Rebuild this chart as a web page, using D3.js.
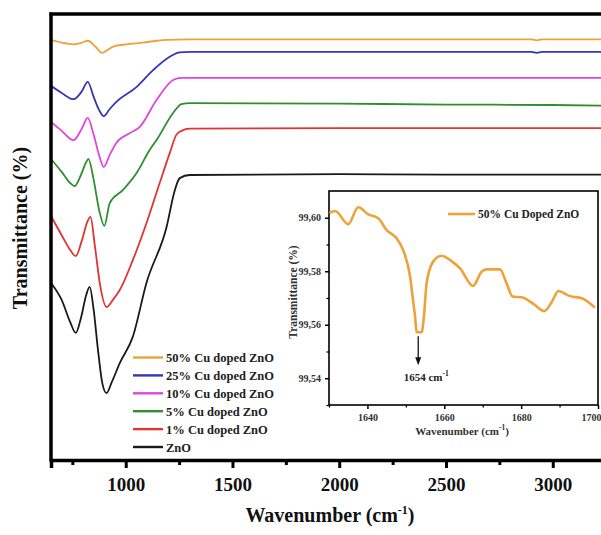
<!DOCTYPE html>
<html><head><meta charset="utf-8">
<script src="https://cdn.jsdelivr.net/npm/d3@7"></script>
<style>
body{margin:0;background:#fff}
svg{display:block}
text{font-family:"Liberation Serif","Times New Roman",serif;font-weight:bold}
</style>
</head><body>
<svg id="c" width="601" height="535"></svg>
<script>
// ---------------- DATA ----------------
const seriesNames = ["50% Cu doped ZnO","25% Cu doped ZnO","10% Cu doped ZnO","5% Cu doped ZnO","1% Cu doped ZnO","ZnO"];
const seriesColors = ["#eda23a","#3535b8","#df45df","#2e8f2e","#e03434","#1a1a1a"];

// [wavenumber, transmittance (arb. offset units)]
const cu50 = [[650,94.2],[700,93.6],[756,93.2],[795,93.6],[822,94.0],[860,92.6],[888,91.3],[941,92.7],[1003,93.2],[1081,93.6],[1144,94.0],[1191,94.2],[1300,94.3],[2000,94.3],[2900,94.3],[2925,94.1],[2950,94.3],[3300,94.3]];
const cu25 = [[650,83.9],[700,82.3],[756,80.9],[795,82.7],[822,84.8],[850,81.4],[875,78.5],[897,77.1],[925,78.7],[956,80.3],[1050,83.6],[1128,87.4],[1206,90.4],[1253,91.4],[1300,91.5],[2000,91.5],[2900,91.5],[2925,91.3],[2950,91.5],[3300,91.5]];
const cu10 = [[650,75.8],[700,73.8],[756,71.7],[795,74.4],[822,76.7],[850,72.9],[875,68.4],[897,65.7],[925,68.4],[956,71.1],[1020,73.3],[1066,74.7],[1144,80.7],[1222,85.2],[1261,85.7],[1300,85.7],[2000,85.7],[3300,85.7]];
const cu5 = [[650,67.5],[700,64.6],[740,62.1],[760,61.4],[790,63.9],[815,66.8],[825,67.5],[850,62.8],[875,56.1],[900,52.5],[925,57.6],[986,60.5],[1050,64.3],[1112,69.5],[1144,71.7],[1222,77.8],[1261,79.8],[1300,80.0],[2000,79.9],[2500,79.7],[3000,79.6],[3300,79.4]];
const cu1 = [[650,54.7],[700,50.4],[740,47.1],[766,45.7],[795,49.3],[820,53.4],[835,54.5],[855,48.2],[880,39.2],[910,34.3],[940,35.9],[972,38.1],[1033,44.8],[1097,53.1],[1159,62.1],[1206,68.8],[1237,72.9],[1261,73.8],[1300,74.3],[2000,74.4],[3300,74.4]];
const zno = [[650,39.7],[700,35.9],[740,30.9],[766,28.5],[790,31.8],[815,37.0],[831,38.8],[850,33.6],[870,24.7],[890,17.3],[910,15.0],[935,17.5],[972,21.7],[1033,27.6],[1097,39.7],[1191,52.2],[1230,60.5],[1253,63.2],[1300,63.9],[2000,64.1],[2500,64.0],[3300,64.0]];
const allSeries = [cu50, cu25, cu10, cu5, cu1, zno];

const mainTicks = [1000,1500,2000,2500,3000];
const mainMinorTicks = [750,1250,1750,2250,2750,3250];

// inset: 50% Cu doped ZnO, zoomed around 1654 cm-1
const insetData = [[1630.1,99.6017],[1631.6,99.6025],[1635.0,99.5976],[1637.6,99.6039],[1640.2,99.6013],[1642.8,99.5998],[1645.0,99.5954],[1647.6,99.5923],[1649.3,99.5879],[1651.1,99.5780],[1651.8,99.5700],[1652.4,99.5630],[1652.8,99.5572],[1654.1,99.5572],[1654.7,99.5630],[1655.4,99.5755],[1657.1,99.5836],[1659.3,99.5858],[1661.9,99.5838],[1664.1,99.5811],[1667.5,99.5745],[1669.7,99.5798],[1671.0,99.5807],[1674.5,99.5807],[1676.2,99.5755],[1677.8,99.5705],[1680.1,99.5703],[1683.2,99.5678],[1686.0,99.5651],[1688.0,99.5686],[1689.7,99.5726],[1692.7,99.5707],[1695.8,99.5699],[1699.2,99.5664]];
const insetXTicks = [1640,1660,1680,1700];
const insetXMinor = [1630,1650,1670,1690];
const insetYTicks = [99.54,99.56,99.58,99.60];
const insetYMinor = [99.53,99.55,99.57,99.59];
const insetLegend = "50% Cu Doped ZnO";
const peakLabel = 1654;

// ---------------- CHART ----------------
const svg = d3.select("#c");
const L = 51, T = 14, B = 460;
const x = d3.scaleLinear().domain([650, 3300]).range([L, 616.8]);
const y = d3.scaleLinear().domain([0, 100]).range([B, T]);

svg.append("defs").append("clipPath").attr("id","pc")
  .append("rect").attr("x",L).attr("y",T).attr("width",600).attr("height",B-T);

const line = d3.line().x(d=>x(d[0])).y(d=>y(d[1])).curve(d3.curveMonotoneX);
const g = svg.append("g").attr("clip-path","url(#pc)");
allSeries.forEach((s,i)=>{
  g.append("path").datum(s).attr("d",line).attr("fill","none")
   .attr("stroke",seriesColors[i]).attr("stroke-width",1.8);
});

// axes
const xAxis = svg.append("g").attr("transform",`translate(0,${B})`)
  .call(d3.axisBottom(x).tickValues(mainTicks).tickSize(8).tickFormat(d3.format("d")));
xAxis.select(".domain").attr("stroke-width",3.5);
xAxis.selectAll(".tick line").attr("stroke-width",3);
xAxis.selectAll(".tick text").attr("font-size",19).attr("dy","1.05em")
  .attr("font-family","'Liberation Serif',serif").attr("font-weight","bold").attr("fill","#111");
svg.append("g").attr("transform",`translate(0,${B})`)
  .call(d3.axisBottom(x).tickValues(mainMinorTicks).tickSize(5).tickFormat(""))
  .call(a=>{a.select(".domain").remove(); a.selectAll(".tick line").attr("stroke-width",3);});
// left and top frame
svg.append("line").attr("x1",L).attr("x2",L).attr("y1",T-1.5).attr("y2",B+1.5).attr("stroke","#000").attr("stroke-width",3.5);
svg.append("line").attr("x1",L-1.5).attr("x2",620).attr("y1",T).attr("y2",T).attr("stroke","#000").attr("stroke-width",3.5);

// axis titles
svg.append("text").attr("transform","translate(27,228) rotate(-90)").attr("text-anchor","middle")
  .attr("font-size",20).attr("fill","#111").text("Transmittance (%)");
const xt = svg.append("text").attr("x",330).attr("y",522).attr("text-anchor","middle").attr("font-size",20).attr("fill","#111");
xt.append("tspan").text("Wavenumber (cm");
xt.append("tspan").attr("font-size",12).attr("dy",-8).text("-1");
xt.append("tspan").attr("dy",8).text(")");

// main legend
const lg = svg.append("g");
seriesNames.forEach((n,i)=>{
  const yy = 357.5 + i*17.9;
  lg.append("line").attr("x1",133).attr("x2",163).attr("y1",yy).attr("y2",yy)
    .attr("stroke",seriesColors[i]).attr("stroke-width",2.4);
  lg.append("text").attr("x",166).attr("y",yy+4.5).attr("font-size",12.5).attr("fill","#222").text(n);
});

// ---------------- INSET ----------------
const iL = 329, iR = 598, iT = 191, iB = 405;
const ix = d3.scaleLinear().domain([1630,1700]).range([iL,iR]);
const iy = d3.scaleLinear().domain([99.53,99.61]).range([iB,iT]);
svg.append("rect").attr("x",iL).attr("y",iT).attr("width",iR-iL).attr("height",iB-iT)
  .attr("fill","#fff").attr("stroke","#000").attr("stroke-width",1.6);
const ia = svg.append("g").attr("transform",`translate(0,${iB})`)
  .call(d3.axisBottom(ix).tickValues(insetXTicks).tickSize(4).tickFormat(d3.format("d")));
ia.select(".domain").remove();
ia.selectAll(".tick line").attr("stroke-width",1.5);
ia.selectAll(".tick text").attr("font-size",10).attr("fill","#333").attr("dy","0.9em")
  .attr("font-family","'Liberation Serif',serif").attr("font-weight","bold")
  .filter(d=>d===1700).attr("text-anchor","end").attr("dx","3");
svg.append("g").attr("transform",`translate(0,${iB})`)
  .call(d3.axisBottom(ix).tickValues(insetXMinor).tickSize(2.5).tickFormat(""))
  .call(a=>{a.select(".domain").remove(); a.selectAll(".tick line").attr("stroke-width",1.3);});
const iya = svg.append("g").attr("transform",`translate(${iL},0)`)
  .call(d3.axisLeft(iy).tickValues(insetYTicks).tickSize(4).tickFormat(v=>d3.format(".2f")(v).replace(".",",")));
iya.select(".domain").remove();
iya.selectAll(".tick line").attr("stroke-width",1.5);
iya.selectAll(".tick text").attr("font-size",10).attr("fill","#333").attr("dx","-0.1em")
  .attr("font-family","'Liberation Serif',serif").attr("font-weight","bold");
svg.append("g").attr("transform",`translate(${iL},0)`)
  .call(d3.axisLeft(iy).tickValues(insetYMinor).tickSize(2.5).tickFormat(""))
  .call(a=>{a.select(".domain").remove(); a.selectAll(".tick line").attr("stroke-width",1.3);});

const iline = d3.line().x(d=>ix(d[0])).y(d=>iy(d[1])).curve(d3.curveMonotoneX);
svg.append("path").datum(insetData).attr("d",iline).attr("fill","none")
  .attr("stroke","#eda23a").attr("stroke-width",2.6);

// inset legend
svg.append("line").attr("x1",448).attr("x2",475).attr("y1",214).attr("y2",214).attr("stroke","#eda23a").attr("stroke-width",2.6);
svg.append("text").attr("x",478).attr("y",218).attr("font-size",11.5).attr("fill","#222").text(insetLegend);

// inset titles
svg.append("text").attr("transform","translate(297,292) rotate(-90)").attr("text-anchor","middle")
  .attr("font-size",11.5).attr("fill","#333").text("Transmittance (%)");
const ixt = svg.append("text").attr("x",462).attr("y",435).attr("text-anchor","middle").attr("font-size",11).attr("fill","#333");
ixt.append("tspan").text("Wavenumber (cm");
ixt.append("tspan").attr("font-size",7.5).attr("dy",-5).text("-1");
ixt.append("tspan").attr("dy",5).text(")");

// peak arrow + label
const minPt = insetData.reduce((a,b)=>b[1]<a[1]?b:a);
const ax = ix(peakLabel) - 3, ay0 = iy(minPt[1]) + 4;
svg.append("line").attr("x1",ax).attr("x2",ax).attr("y1",ay0).attr("y2",ay0+22).attr("stroke","#111").attr("stroke-width",1.3);
svg.append("path").attr("d",`M${ax-3},${ay0+21} L${ax+3},${ay0+21} L${ax},${ay0+29} Z`).attr("fill","#111");
const pl = svg.append("text").attr("x",ax+8).attr("y",381).attr("text-anchor","middle").attr("font-size",11).attr("fill","#222");
pl.append("tspan").text(peakLabel + " cm");
pl.append("tspan").attr("font-size",7.5).attr("dy",-5).text("-1");
</script>
</body></html>
